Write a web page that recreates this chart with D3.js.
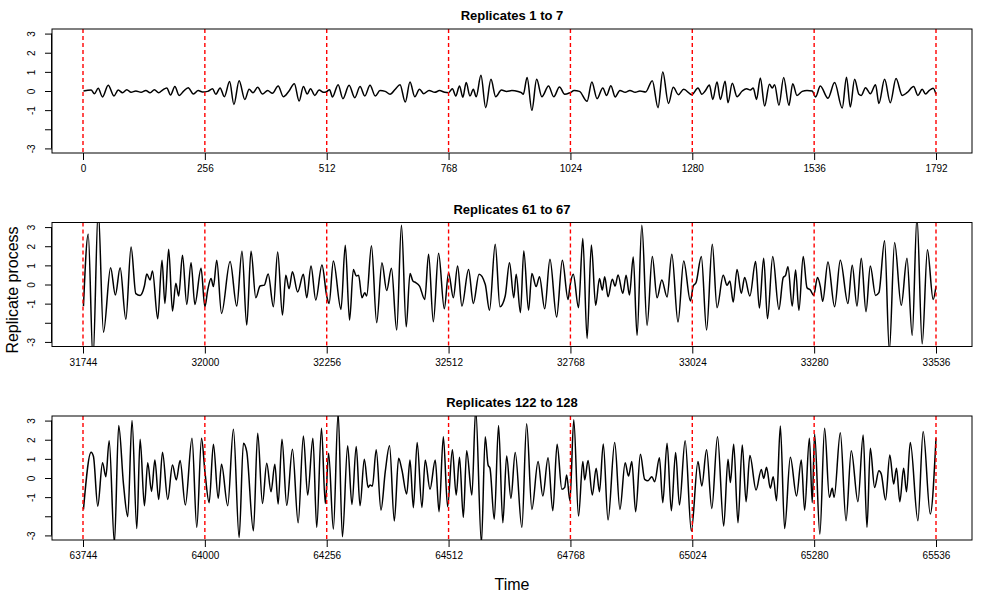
<!DOCTYPE html>
<html>
<head>
<meta charset="utf-8">
<script src="https://cdn.jsdelivr.net/npm/d3@7"></script>
<style>
  html, body { margin: 0; padding: 0; background: #fff; }
  svg { display: block; font-family: "Liberation Sans", Arial, Helvetica, sans-serif; }
</style>
</head>
<body>
<svg id="chart" width="1000" height="600"></svg>
<script>
// ---------- data (times relative to the start of each block of 7 replicates) ----------
const titles = ["Replicates 1 to 7", "Replicates 61 to 67", "Replicates 122 to 128"];
const starts = [0, 31744, 63744];
const tickOffsets = [0, 256, 512, 768, 1024, 1280, 1536, 1792];
const yTicks = [-3, -2, -1, 0, 1, 2, 3];
const yTickLabels = ["-3", "", "-1", "0", "1", "2", "3"];

const p1Time = [1,17,24,32,41,53,65,74,83,92,101,111,122,132,141,150,159,167,176,184,193,202,211,221,232,242,251,262,272,279,288,297,308,317,328,340,349,357,367,377,388,398,410,421,432,444,
454,463,471,478,487,496,505,512,518,524,536,546,559,571,582,592,603,614,624,635,645,656,666,677,687,697,707,716,727,739,749,760,768,776,783,791,798,805,813,820,826,836,846,857,867,879,890,901,
914,921,925,933,943,953,964,978,989,1001,1012,1023,1032,1043,1059,1069,1080,1092,1100,1109,1118,1128,1139,1149,1160,1170,1182,1196,1208,1218,1230,1240,1251,1262,1279,1292,1300,1307,1316,1323,1332,1339,1349,
1355,1364,1374,1385,1394,1402,1408,1415,1423,1432,1442,1448,1453,1462,1472,1483,1491,1500,1511,1521,1532,1539,1549,1565,1579,1595,1604,1612,1621,1630,1635,1644,1654,1665,1672,1684,1696,1708,1721,1731,1745,1754,1763,1770,1778,1786,1792];
const p1Value = [0,0.05,-0.14,0.14,-0.31,0.30,-0.26,0.05,-0.09,0.07,-0.07,0,-0.07,0.03,-0.09,0.07,-0.09,0.05,0.16,-0.21,0.23,-0.23,-0.02,0.17,-0.16,0.02,-0.05,-0.02,0.12,-0.17,0.16,-0.30,0.49,-0.70,0.54,-0.44,0.09,-0.09,0.19,-0.16,0.02,-0.12,0.26,-0.30,-0.03,0.38,
-0.52,0.23,-0.16,0.12,-0.23,0.05,-0.07,-0.03,0.07,-0.31,0.33,-0.40,0.30,-0.35,0.23,-0.26,0.30,-0.26,0.02,-0.02,-0.17,0.09,0.33,-0.58,0.47,-0.30,0.09,-0.14,0.03,-0.07,0.02,-0.07,-0.09,0.12,-0.26,0.26,-0.33,0.44,-0.26,0.09,-0.30,0.82,-0.87,0.61,-0.30,0.05,-0.02,0.02,
-0.03,-0.09,-0.17,0.70,-1.01,0.61,-0.30,0.26,-0.30,0.21,-0.17,-0.09,0.02,-0.02,-0.54,0.47,-0.40,0.16,-0.23,0.28,-0.31,0.03,-0.07,0.03,-0.07,0,-0.05,0.54,-0.87,0.99,-0.65,0.19,-0.19,0.09,-0.19,0.16,-0.17,0,0.31,-0.44,0.47,-0.44,0.51,
-0.61,0.40,-0.30,0,0.12,0.05,0.16,-0.44,0.68,-0.79,0.35,0.16,0.33,-0.75,0.70,-0.75,0.38,-0.23,-0.02,0.03,0,-0.31,0.26,-0.38,0.44,-0.89,0.72,-0.84,0.61,-0.17,-0.23,0.17,-0.14,0.33,-0.65,0.61,-0.61,0.65,-0.23,-0.09,0.23,-0.23,0.09,-0.16,0.03,0.14,-0.17];

const p2Time = [1,11,21,32,43,58,68,78,90,101,111,120,129,134,141,146,157,166,172,180,188,195,201,209,218,227,235,248,256,262,269,274,281,291,309,323,334,344,353,363,372,381,389,400,409,419,426,433,440,451,
463,470,479,489,502,512,517,526,542,551,560,568,574,579,586,592,596,606,617,628,638,648,659,669,679,687,693,699,707,718,726,736,747,759,768,778,787,796,810,820,832,845,854,866,876,887,896,905,
910,919,926,936,943,952,959,970,981,995,1007,1019,1023,1030,1041,1050,1059,1068,1077,1085,1091,1096,1103,1112,1118,1124,1134,1141,1148,1156,1164,1174,1185,1196,1206,1216,1227,1237,1250,1262,1276,1282,1288,1299,1310,1322,1332,1345,1353,
1359,1366,1374,1383,1390,1401,1413,1421,1430,1438,1449,1462,1471,1476,1481,1490,1497,1504,1513,1521,1528,1535,1543,1549,1554,1565,1579,1591,1607,1616,1626,1635,1645,1654,1665,1672,1684,1694,1705,1719,1731,1742,1752,1763,1774,1786,1792];
const p2Value = [-1.13,2.63,-3.9,3.9,-2.49,0.88,-0.55,0.88,-1.82,1.96,-0.48,-0.57,-0.08,0.55,0.24,0.71,-1.79,1.27,-0.99,1.84,-1.39,0.06,-0.60,1.53,-1.04,1.14,-1.04,0.85,-1.16,-0.29,0.31,-0.11,1.27,-1.51,1.20,-1.13,1.74,-2.12,1.74,-0.69,-0.08,-0.03,0.55,-1.16,1.70,-1.60,0.48,-0.22,0.67,-0.39,
0.53,-0.69,0.97,-0.81,1.02,-0.60,-0.99,1.23,-1.30,2.05,-1.86,0.79,0.45,0.48,-0.69,-0.43,-0.60,2.02,-2.00,1.14,-0.32,0.85,-2.38,3.10,-2.21,0.58,0.18,0.10,-0.08,-0.78,1.58,-1.95,1.63,-1.27,0.62,-0.69,0.97,-1.13,0.79,-0.99,0.53,0.01,-1.35,2.10,-1.16,-0.60,1.14,-0.69,
0.53,-1.47,1.75,-1.34,0.58,-0.11,0.41,-1.27,1.32,-1.70,1.27,-0.78,-0.08,0.53,-1.21,2.40,-2.82,2.07,-1.09,0.31,-0.29,0.41,-0.64,0.27,-0.08,0.50,-0.46,0.48,-0.55,1.44,-2.66,3.10,-2.14,1.46,-0.69,0.24,-0.65,1.58,-1.96,1.23,-0.86,-0.08,0.10,1.46,-2.38,2.10,-1.21,0.48,-0.04,
0.18,-0.92,0.79,-0.46,0.36,-0.60,1.20,-1.23,1.37,-1.79,1.46,-1.30,0.36,0.48,0.93,-1.13,0.76,-1.35,1.46,-0.17,-0.29,-0.57,0.36,-0.11,-0.88,1.18,-1.16,1.27,-0.99,1.00,-1.13,1.37,-1.42,0.97,-0.57,-0.43,2.28,-3.45,2.19,-1.09,1.37,-2.66,3.5,-3.10,1.81,-0.78,-0.08];

const p3Time = [1,17,22,31,41,48,55,66,75,85,94,103,113,120,129,136,144,151,159,167,178,188,196,204,215,229,239,249,256,265,274,284,291,304,316,328,337,344,358,367,377,386,395,403,410,418,428,440,452,
463,472,483,491,501,509,516,526,536,545,556,565,574,582,591,599,603,608,616,626,635,644,654,663,670,680,687,694,702,712,719,729,740,748,757,766,776,784,791,799,806,817,825,837,845,851,855,864,873,882,890,
899,908,922,932,943,956,966,977,987,996,1006,1012,1016,1023,1031,1041,1050,1054,1061,1070,1078,1085,1093,1103,1117,1128,1139,1146,1153,1161,1171,1180,1187,1195,1201,1211,1218,1227,1236,1245,1253,1265,1278,1292,1300,1310,1321,1333,1346,1355,
1360,1367,1376,1385,1393,1401,1414,1425,1430,1436,1444,1450,1457,1465,1474,1486,1499,1509,1516,1526,1532,1537,1548,1558,1568,1574,1578,1591,1603,1614,1628,1639,1647,1654,1663,1672,1677,1686,1695,1703,1709,1716,1724,1730,1738,1754,1765,1780,1792];
const p3Value = [-1.64,1.34,1.12,-1.47,0.80,0.07,1.95,-3.4,2.74,-0.31,-2.02,3.00,-2.64,2.02,-1.45,0.80,-0.70,0.94,-1.12,1.34,-1.12,0.68,-0.10,0.91,-1.41,2.08,-2.58,2.08,0.37,-1.29,1.76,-1.06,0.72,-1.45,2.55,-3.11,1.82,1.38,-2.76,2.34,-1.33,0.77,-0.72,0.72,-1.36,2.02,-1.43,1.50,-2.34,
2.20,-0.89,2.08,-2.58,2.60,-1.33,1.29,-2.67,3.4,-3.07,1.68,-1.38,1.64,-1.45,0.98,-0.49,-0.37,-0.42,1.47,-1.68,0.33,1.68,-2.25,1.03,0.42,-0.84,0.94,-1.55,1.85,-1.54,0.94,-0.59,0.94,-1.76,2.16,-1.50,1.47,-0.89,1.08,-2.06,1.43,-0.89,3.6,-3.4,2.16,0.68,0.51,-2.16,2.74,-2.34,1.15,
-1.06,1.33,-2.58,2.83,-1.64,0.86,-0.94,1.06,-1.71,1.76,-0.59,-0.49,0.16,-1.19,3.04,-1.99,0.86,-0.10,0.91,-0.89,0.51,-0.72,1.78,-2.20,1.85,-1.64,0.80,0.10,0.86,-1.76,1.24,-0.07,-0.14,0.07,-0.19,1.06,-1.29,1.82,-1.71,1.33,-1.41,1.95,-2.77,0.86,-0.42,1.47,-1.59,2.16,-2.51,0.98,
-0.24,1.76,-2.34,1.73,-1.24,1.17,-0.63,0.45,-0.02,0.56,-0.54,0.07,-1.19,2.72,-2.64,1.08,-0.94,0.94,-1.68,2.08,-1.29,2.30,-2.93,2.60,-1.01,-0.54,-1.01,2.37,-2.23,1.43,-1.24,2.25,-2.58,1.55,-0.49,0.38,0.21,-1.15,1.20,-0.31,0.51,-1.24,0.51,-0.72,1.85,-2.23,2.43,-1.88,2.08];

const seriesTime = [p1Time, p2Time, p3Time];
const seriesValue = [p1Value, p2Value, p3Value];

// ---------- layout ----------
const svg = d3.select("#chart");
const boxLeft = 52, boxRight = 972;
const tickLeft = 83, tickRight = 936;
const panelTops = [29, 222.5, 416];
const panelH = 124;
const yPad = 3.24;

panelTops.forEach((top, i) => {
  const bottom = top + panelH;
  const x = d3.scaleLinear().domain([starts[i], starts[i] + 1792]).range([tickLeft, tickRight]);
  const y = d3.scaleLinear().domain([-yPad, yPad]).range([bottom, top]);
  const g = svg.append("g");

  const clipId = "clip" + i;
  svg.append("clipPath").attr("id", clipId)
    .append("rect").attr("x", boxLeft).attr("y", top).attr("width", boxRight - boxLeft).attr("height", panelH);

  // series line
  const data = seriesTime[i].map((t, k) => ({ t: starts[i] + t, v: seriesValue[i][k] }));
  const line = d3.line().x(d => x(d.t)).y(d => y(d.v)).curve(d3.curveMonotoneX);
  g.append("path").datum(data)
    .attr("clip-path", `url(#${clipId})`)
    .attr("d", line)
    .attr("fill", "none").attr("stroke", "#000").attr("stroke-width", 1.5)
    .attr("stroke-linejoin", "round");

  // red dashed separators
  g.append("g").attr("clip-path", `url(#${clipId})`)
    .selectAll("line").data(tickOffsets).join("line")
    .attr("x1", d => x(starts[i] + d)).attr("x2", d => x(starts[i] + d))
    .attr("y1", top).attr("y2", bottom)
    .attr("stroke", "#ff0000").attr("stroke-width", 1.4).attr("stroke-dasharray", "4,3");

  // box
  g.append("rect").attr("x", boxLeft).attr("y", top)
    .attr("width", boxRight - boxLeft).attr("height", panelH)
    .attr("fill", "none").attr("stroke", "#000").attr("stroke-width", 1);

  // x axis
  const xa = d3.axisBottom(x).tickValues(tickOffsets.map(d => starts[i] + d))
    .tickFormat(d3.format("d")).tickSize(7).tickPadding(5);
  const gx = g.append("g").attr("transform", `translate(0,${bottom})`).call(xa);
  gx.select(".domain").remove();
  gx.selectAll("text").attr("font-size", 10).attr("font-family", "Liberation Sans, Arial, sans-serif").attr("fill", "#000");
  gx.selectAll("line").attr("stroke", "#000");

  // y axis
  const ya = d3.axisLeft(y).tickValues(yTicks).tickFormat((d, k) => yTickLabels[k]).tickSize(7);
  const gy = g.append("g").attr("transform", `translate(${boxLeft},0)`).call(ya);
  gy.select(".domain").attr("d", `M-0.5,${y(-3)}V${y(3)}`).attr("stroke", "#000");
  gy.selectAll("line").attr("stroke", "#000");
  gy.selectAll("text")
    .attr("x", null).attr("dy", null)
    .attr("text-anchor", "middle")
    .attr("transform", "translate(-17,0) rotate(-90)")
    .attr("font-size", 10).attr("font-family", "Liberation Sans, Arial, sans-serif").attr("fill", "#000");

  // title
  svg.append("text").attr("x", (boxLeft + boxRight) / 2).attr("y", top - 9)
    .attr("text-anchor", "middle").attr("font-weight", "bold").attr("font-size", 13)
    .text(titles[i]);
});

// outer axis titles
svg.append("text").attr("x", 512).attr("y", 590).attr("text-anchor", "middle")
  .attr("font-size", 16).text("Time");
svg.append("text").attr("transform", "translate(18,290) rotate(-90)").attr("text-anchor", "middle")
  .attr("font-size", 16).text("Replicate process");
</script>
</body>
</html>
